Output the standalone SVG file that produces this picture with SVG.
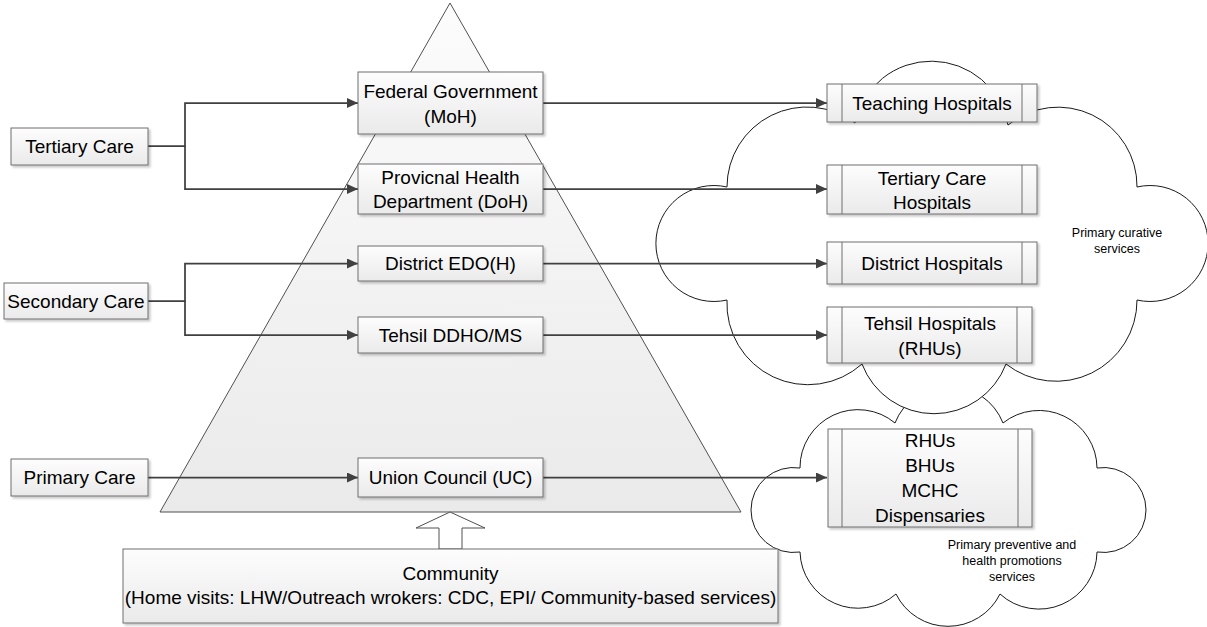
<svg xmlns="http://www.w3.org/2000/svg" width="1207" height="627" viewBox="0 0 1207 627">
  <defs>
    <linearGradient id="boxFill" x1="0" y1="0" x2="0" y2="1">
      <stop offset="0" stop-color="#fdfdfd"/>
      <stop offset="1" stop-color="#eaeaea"/>
    </linearGradient>
    <linearGradient id="pyramidFill" x1="0" y1="0" x2="0" y2="1">
      <stop offset="0" stop-color="#fcfcfc"/>
      <stop offset="1" stop-color="#eaeaea"/>
    </linearGradient>
    <filter id="shadow" x="-10%" y="-10%" width="130%" height="140%">
      <feDropShadow dx="2" dy="2" stdDeviation="1" flood-color="#000" flood-opacity="0.22"/>
    </filter>
    <marker id="arrow" markerUnits="userSpaceOnUse" markerWidth="12" markerHeight="10" refX="11" refY="5" orient="auto">
      <path d="M0,0 L11,5 L0,10 Z" fill="#404040"/>
    </marker>
  </defs>
  <style>
    .box { fill: url(#boxFill); stroke: #6e6e6e; stroke-width: 1; filter: url(#shadow); }
    .bar { stroke: #6e6e6e; stroke-width: 1; }
    .lbl { font-family: "Liberation Sans", Arial, sans-serif; font-size: 19px; fill: #000; text-anchor: middle; }
    .small { font-family: "Liberation Sans", Arial, sans-serif; font-size: 12.5px; fill: #000; text-anchor: middle; }
    .cloud { fill: #fff; stroke: #1a1a1a; stroke-width: 1; }
    .conn { fill: none; stroke: #404040; stroke-width: 1.75; }
  </style>

  <rect width="1207" height="627" fill="#fff"/>

  <!-- health system pyramid -->
  <g id="pyramid">
    <path d="M450,3 L741,512 L160,512 Z" fill="url(#pyramidFill)" stroke="#505050" stroke-width="1"/>
  </g>

  <!-- service clouds -->
  <g id="cloud-preventive">
    <path class="cloud" d="M800,468 A58,58 0 0 1 895,423 A58,58 0 0 1 1003,423 A58,58 0 0 1 1097,468 A42.5,42.5 0 1 1 1097,552 A58,58 0 0 1 1000,594 A58,58 0 0 1 896,594 A58,58 0 0 1 800,552 A42.5,42.5 0 1 1 800,468 Z"/>
    <text class="small" x="1012" y="549">Primary preventive and</text>
    <text class="small" x="1012" y="565">health promotions</text>
    <text class="small" x="1012" y="581">services</text>
  </g>
  <g id="cloud-curative">
    <path class="cloud" d="M727,187 A80,80 0 0 1 855,123 A78,78 0 0 1 1008,125 A79,79 0 0 1 1137,187 A58,58 0 1 1 1137,300 A81,81 0 0 1 1006,364 A77,77 0 0 1 862,364 A81,81 0 0 1 727,300 A58,58 0 1 1 727,187 Z"/>
    <text class="small" x="1117" y="237">Primary curative</text>
    <text class="small" x="1117" y="253">services</text>
  </g>

  <!-- connectors -->
  <g id="connectors">
    <path class="conn" d="M148,146 H185 V103 H358" marker-end="url(#arrow)"/>
    <path class="conn" d="M185,146 V189 H358" marker-end="url(#arrow)"/>
    <path class="conn" d="M148,301 H185 V263.5 H358" marker-end="url(#arrow)"/>
    <path class="conn" d="M185,301 V335 H358" marker-end="url(#arrow)"/>
    <path class="conn" d="M148,477.5 H358" marker-end="url(#arrow)"/>
    <path class="conn" d="M543,103 H827" marker-end="url(#arrow)"/>
    <path class="conn" d="M543,189 H827" marker-end="url(#arrow)"/>
    <path class="conn" d="M543,263.5 H827" marker-end="url(#arrow)"/>
    <path class="conn" d="M543,335 H827" marker-end="url(#arrow)"/>
    <path class="conn" d="M543,477.5 H827" marker-end="url(#arrow)"/>
    <!-- community up-arrow -->
    <path d="M450,512 L485,528 L462,528 L462,549 L439,549 L439,528 L416,528 Z" fill="#fff" stroke="#505050" stroke-width="1"/>
  </g>

  <!-- care levels -->
  <g id="tertiary-care">
    <rect class="box" x="11" y="128" width="137" height="37"/>
    <text class="lbl" x="79.5" y="153">Tertiary Care</text>
  </g>
  <g id="secondary-care">
    <rect class="box" x="4" y="283" width="144" height="36"/>
    <text class="lbl" x="76" y="307.5">Secondary Care</text>
  </g>
  <g id="primary-care">
    <rect class="box" x="11" y="459" width="137" height="37"/>
    <text class="lbl" x="79.5" y="484">Primary Care</text>
  </g>

  <!-- administrative levels -->
  <g id="federal">
    <rect class="box" x="358" y="72" width="185" height="62"/>
    <text class="lbl" x="450.5" y="97.5">Federal Government</text>
    <text class="lbl" x="450.5" y="122.5">(MoH)</text>
  </g>
  <g id="provincial">
    <rect class="box" x="358" y="164" width="185" height="50"/>
    <text class="lbl" x="450.5" y="184">Provicnal Health</text>
    <text class="lbl" x="450.5" y="208">Department (DoH)</text>
  </g>
  <g id="district">
    <rect class="box" x="358" y="246" width="185" height="35"/>
    <text class="lbl" x="450.5" y="270">District EDO(H)</text>
  </g>
  <g id="tehsil">
    <rect class="box" x="358" y="317" width="185" height="36"/>
    <text class="lbl" x="450.5" y="341.5">Tehsil DDHO/MS</text>
  </g>
  <g id="union-council">
    <rect class="box" x="358" y="458" width="185" height="39"/>
    <text class="lbl" x="450.5" y="484">Union Council (UC)</text>
  </g>

  <!-- facilities -->
  <g id="teaching-hospitals">
    <rect class="box" x="827" y="84" width="210" height="38"/>
    <line class="bar" x1="842" y1="84" x2="842" y2="122"/>
    <line class="bar" x1="1022" y1="84" x2="1022" y2="122"/>
    <text class="lbl" x="932" y="109.5">Teaching Hospitals</text>
  </g>
  <g id="tertiary-hospitals">
    <rect class="box" x="827" y="165" width="210" height="49"/>
    <line class="bar" x1="842" y1="165" x2="842" y2="214"/>
    <line class="bar" x1="1022" y1="165" x2="1022" y2="214"/>
    <text class="lbl" x="932" y="184.5">Tertiary Care</text>
    <text class="lbl" x="932" y="209">Hospitals</text>
  </g>
  <g id="district-hospitals">
    <rect class="box" x="827" y="242" width="210" height="42"/>
    <line class="bar" x1="842" y1="242" x2="842" y2="284"/>
    <line class="bar" x1="1022" y1="242" x2="1022" y2="284"/>
    <text class="lbl" x="932" y="270">District Hospitals</text>
  </g>
  <g id="tehsil-hospitals">
    <rect class="box" x="827" y="307" width="205" height="56"/>
    <line class="bar" x1="842" y1="307" x2="842" y2="363"/>
    <line class="bar" x1="1017" y1="307" x2="1017" y2="363"/>
    <text class="lbl" x="930" y="329.5">Tehsil Hospitals</text>
    <text class="lbl" x="930" y="355">(RHUs)</text>
  </g>
  <g id="primary-facilities">
    <rect class="box" x="828" y="429" width="204" height="98"/>
    <line class="bar" x1="842" y1="429" x2="842" y2="527"/>
    <line class="bar" x1="1018" y1="429" x2="1018" y2="527"/>
    <text class="lbl" x="930" y="447">RHUs</text>
    <text class="lbl" x="930" y="472">BHUs</text>
    <text class="lbl" x="930" y="497">MCHC</text>
    <text class="lbl" x="930" y="522">Dispensaries</text>
  </g>

  <!-- community base -->
  <g id="community">
    <rect class="box" x="123" y="549" width="655" height="74"/>
    <text class="lbl" x="450.5" y="580">Community</text>
    <text class="lbl" x="450.5" y="604">(Home visits: LHW/Outreach wrokers: CDC, EPI/ Community-based services)</text>
  </g>
</svg>
